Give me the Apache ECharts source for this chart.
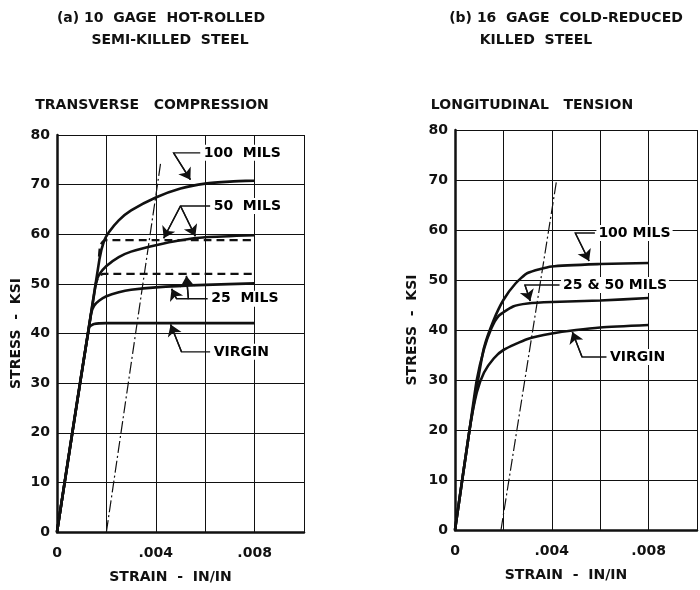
<!DOCTYPE html>
<html><head><meta charset="utf-8">
<script src="https://cdn.jsdelivr.net/npm/echarts@6/dist/echarts.min.js"></script>
<style>html,body{margin:0;padding:0;background:#fff}#c{width:700px;height:590px}</style>
</head><body><div id="c"></div>
<script>
// ---------- data ----------
// (a) 10 gage hot-rolled semi-killed steel, transverse compression
const aVirgin   = [[0,0],[0.0013,41.2],[0.0015,41.9],[0.002,42.1],[0.004,42.1],[0.006,42.1],[0.008,42.1]];
const a25Solid  = [[0,0],[0.00138,44],[0.0015,45.6],[0.0017,46.6],[0.002,47.5],[0.0025,48.3],[0.003,48.8],[0.004,49.3],[0.006,49.8],[0.008,50.1]];
const a25Dash   = [[0.00155,49.5],[0.0017,51.6],[0.0019,52],[0.004,52],[0.006,52],[0.008,52]];
const a50Solid  = [[0,0],[0.00157,50],[0.0017,51.8],[0.002,53.6],[0.0025,55.4],[0.003,56.5],[0.004,57.8],[0.005,58.8],[0.006,59.4],[0.008,59.8]];
const a50Dash   = [[0.0017,55.5],[0.00175,57.8],[0.0019,58.7],[0.002,58.8],[0.004,58.8],[0.006,58.8],[0.008,58.8]];
const a100Solid = [[0,0],[0.00172,55],[0.0019,58.6],[0.0021,60.4],[0.0025,62.8],[0.003,64.8],[0.004,67.4],[0.005,69.2],[0.006,70.2],[0.007,70.6],[0.008,70.8]];
const aOffset   = [[0.002,0],[0.0042,74.5]];

// (b) 16 gage cold-reduced killed steel, longitudinal tension
const bVirgin   = [[0,0],[0.0006,20],[0.0009,27.5],[0.0012,31.5],[0.0016,34.3],[0.002,36],[0.003,38.2],[0.004,39.3],[0.005,40],[0.006,40.5],[0.008,41]];
const b2550     = [[0,0],[0.0006,20],[0.0009,30],[0.0012,36.2],[0.0015,40.3],[0.0018,42.8],[0.0024,44.7],[0.003,45.3],[0.004,45.6],[0.006,45.9],[0.008,46.4]];
const b100      = [[0,0],[0.0006,20],[0.00095,30],[0.0012,36.5],[0.0016,42],[0.002,46],[0.0025,49.3],[0.003,51.4],[0.004,52.7],[0.006,53.2],[0.008,53.4]];
const bOffset   = [[0.0019,0],[0.0042,70]];

// tick labels
const yTickValues = [0,10,20,30,40,50,60,70,80];
const xTickValues = [0,0.004,0.008];
const xTickText   = ['0','.004','.008'];

// annotation texts (anchor in data coordinates)
const aLabels = [[0.0058,76.4,'100  MILS'],[0.0062,65.7,'50  MILS'],[0.0061,47,'25  MILS'],[0.0062,36.3,'VIRGIN']];
const bLabels = [[0.00578,59.4,'100 MILS'],[0.00432,49,'25 & 50 MILS'],[0.00626,34.6,'VIRGIN']];
// leader lines (last point = arrow tip)
const aLeaders = [
  [[0.0058,76.4],[0.00472,76.4],[0.0054,71.0]],
  [[0.0062,65.7],[0.005,65.7],[0.00432,59.2]],
  [[0.005,65.7],[0.0056,59.6]],
  [[0.0061,47],[0.00532,47],[0.00524,51.6]],
  [[0.00532,47],[0.00484,47],[0.00464,49.0]],
  [[0.0062,36.3],[0.00504,36.3],[0.0046,41.8]]
];
const bLeaders = [
  [[0.00578,59.4],[0.00497,59.4],[0.00554,53.8]],
  [[0.00432,49],[0.00289,49],[0.00311,45.8]],
  [[0.00626,34.6],[0.00525,34.6],[0.00485,39.6]]
];

// ---------- chart ----------
const FONT = 'DejaVu Sans';
const ink = '#111';
const txt = {fontFamily:FONT,fontSize:14,fontWeight:'bold',color:ink};
function xAxis(idx){
  return {
    type:'value', gridIndex:idx, min:0, max:0.01, interval:0.002,
    name:'STRAIN  -  IN/IN', nameLocation:'middle', nameGap:38,
    nameTextStyle:Object.assign({padding:[0,20,0,0]},txt),
    axisLine:{show:true,onZero:false,lineStyle:{color:ink,width:2.5}},
    axisTick:{show:false},
    splitLine:{show:true,lineStyle:{color:ink,width:1}},
    axisLabel:Object.assign({margin:14,
      formatter:v=>{for(let i=0;i<xTickValues.length;i++){if(Math.abs(v-xTickValues[i])<1e-9)return xTickText[i];}return '';}},txt)
  };
}
function yAxis(idx,gap){
  return {
    type:'value', gridIndex:idx, min:0, max:80, interval:10,
    name:'STRESS  -  KSI', nameLocation:'middle', nameGap:gap, nameRotate:90,
    nameTextStyle:txt,
    axisLine:{show:true,onZero:false,lineStyle:{color:ink,width:2.5}},
    axisTick:{show:false},
    splitLine:{show:true,lineStyle:{color:ink,width:1}},
    axisLabel:Object.assign({margin:7,formatter:v=>yTickValues.indexOf(v)>=0?String(v):''},txt)
  };
}
function curve(data,idx,type,width){
  return {type:'line',xAxisIndex:idx,yAxisIndex:idx,data:data,showSymbol:false,smooth:0.2,
    lineStyle:{color:ink,width:width||2.6,type:type||'solid'},z:3,silent:true};
}
function straight(data,idx,type,width){
  return {type:'line',xAxisIndex:idx,yAxisIndex:idx,data:data,showSymbol:false,smooth:false,
    lineStyle:{color:ink,width:width||1.2,type:type||'solid'},z:3,silent:true};
}
function labels(arr,idx){
  return {type:'scatter',xAxisIndex:idx,yAxisIndex:idx,symbolSize:1,z:5,silent:true,
    itemStyle:{color:'rgba(0,0,0,0)',opacity:1},
    data:arr.map(d=>({value:[d[0],d[1]],name:d[2]})),
    label:Object.assign({show:true,position:'right',distance:1,formatter:p=>p.name,opacity:1,
      backgroundColor:'#fff',padding:[1,2]},txt,{color:'#000'})};
}
// leader path (without arrow) + last segment with arrow head
function leaderPaths(arr,idx){
  return {type:'lines',coordinateSystem:'cartesian2d',xAxisIndex:idx,yAxisIndex:idx,polyline:true,z:4,silent:true,
    lineStyle:{color:ink,width:1.4,opacity:1},
    data:arr.map(c=>({coords:c}))};
}
function leaderHeads(arr,idx){
  return {type:'lines',coordinateSystem:'cartesian2d',xAxisIndex:idx,yAxisIndex:idx,polyline:false,z:4,silent:true,
    symbol:['none','arrow'],symbolSize:[6,11],
    lineStyle:{color:ink,width:1.4,opacity:1},
    data:arr.map(c=>({coords:[c[c.length-2],c[c.length-1]]}))};
}
const titleStyle = txt;
const option = {
  animation:false,
  backgroundColor:'#fff',
  title:[
    {text:'(a) 10  GAGE  HOT-ROLLED',left:156,top:6,textAlign:'center',textStyle:titleStyle},
    {text:'SEMI-KILLED  STEEL',left:165,top:28,textAlign:'center',textStyle:titleStyle},
    {text:'TRANSVERSE   COMPRESSION',left:147,top:93,textAlign:'center',textStyle:titleStyle},
    {text:'(b) 16  GAGE  COLD-REDUCED',left:561,top:6,textAlign:'center',textStyle:titleStyle},
    {text:'KILLED  STEEL',left:531,top:28,textAlign:'center',textStyle:titleStyle},
    {text:'LONGITUDINAL   TENSION',left:527,top:93,textAlign:'center',textStyle:titleStyle}
  ],
  grid:[
    {left:57,top:135,width:247,height:397},
    {left:455,top:130,width:248,height:400}
  ],
  xAxis:[xAxis(0),xAxis(1)],
  yAxis:[yAxis(0,34),yAxis(1,36)],
  series:[
    curve(aVirgin,0),curve(a25Solid,0),curve(a25Dash,0,[8,5],2.2),curve(a50Solid,0),curve(a50Dash,0,[8,5],2.2),curve(a100Solid,0),
    straight(aOffset,0,[12,3,2,3],1.2),
    curve(bVirgin,1),curve(b2550,1),curve(b100,1),straight(bOffset,1,[12,3,2,3],1.2),
    labels(aLabels,0),labels(bLabels,1),
    leaderPaths(aLeaders,0),leaderPaths(bLeaders,1),leaderHeads(aLeaders,0),leaderHeads(bLeaders,1)
  ]
};
const chart = echarts.init(document.getElementById('c'),null,{renderer:'canvas'});
chart.setOption(option);
</script></body></html>
